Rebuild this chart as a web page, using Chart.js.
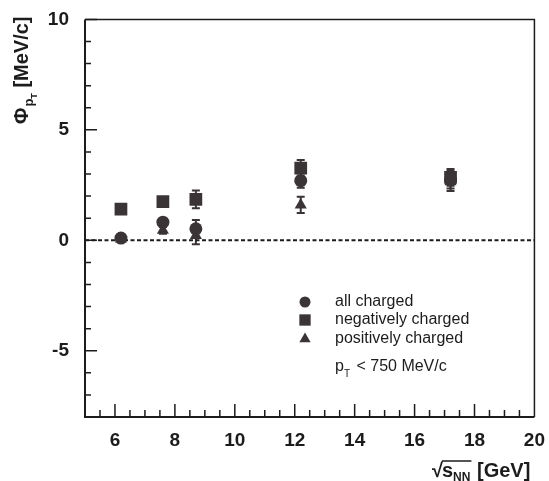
<!DOCTYPE html>
<html>
<head>
<meta charset="utf-8">
<script src="https://cdn.jsdelivr.net/npm/chart.js@4"></script>
<style>
  html,body{margin:0;padding:0;background:#fff;}
  canvas{display:block;}
</style>
</head>
<body>
<canvas id="phiChart" width="549" height="481"></canvas>
<script>
/* ===== data ===== */
const energies = [6.2, 7.6, 8.7, 12.2, 17.2];          // sqrt(s_NN) [GeV]
const allCharged    = [0.10, 0.82, 0.52, 2.70, 2.75];
const allChargedErr = [0.12, 0.15, 0.40, 0.32, 0.40];
const negCharged    = [1.41, 1.75, 1.85, 3.27, 2.85];
const negChargedErr = [0.12, 0.12, 0.40, 0.37, 0.38];
const posCharged    = [0.06, 0.45, 0.22, 1.60, 2.65];
const posChargedErr = [0.12, 0.15, 0.40, 0.37, 0.42];
const seriesNames = ['all charged', 'negatively charged', 'positively charged'];
const xTickLabels = [6, 8, 10, 12, 14, 16, 18, 20];
const yTickLabels = [-5, 0, 5, 10];
const zeroLineX = [5, 20];
const zeroLineY = [0, 0];

const INK = '#1c1c1c';
const MARK = '#3b3437';
const FONT = "'Liberation Sans', Arial, sans-serif";

function pts(ys){
    return energies.map((x,i)=>({x:x, y:ys[i]}));
}

/* error bars, axis box, ticks, legend, titles */
const decor = {
    id:'decor',
    beforeDatasetsDraw(chart){
        const ctx = chart.ctx, xs = chart.scales.x, ys = chart.scales.y;
        ctx.save();
        ctx.strokeStyle = MARK;
        ctx.lineWidth = 2;
        chart.data.datasets.forEach(ds=>{
            if(!ds.errors) return;
            ds.data.forEach((p,i)=>{
                const px = xs.getPixelForValue(p.x);
                const top = ys.getPixelForValue(p.y + ds.errors[i]);
                const bot = ys.getPixelForValue(p.y - ds.errors[i]);
                ctx.beginPath();
                ctx.moveTo(px, top); ctx.lineTo(px, bot);
                ctx.moveTo(px-4, top); ctx.lineTo(px+4, top);
                ctx.moveTo(px-4, bot); ctx.lineTo(px+4, bot);
                ctx.stroke();
            });
        });
        ctx.restore();
    },
    afterDraw(chart){
        const ctx = chart.ctx, a = chart.chartArea;
        const xs = chart.scales.x, ys = chart.scales.y;
        ctx.save();
        ctx.strokeStyle = INK;

        // frame
        ctx.lineWidth = 1.5;
        ctx.beginPath();
        ctx.moveTo(a.left, a.top); ctx.lineTo(a.right, a.top); ctx.lineTo(a.right, a.bottom);
        ctx.stroke();
        ctx.lineWidth = 2;
        ctx.beginPath();
        ctx.moveTo(a.left, a.top); ctx.lineTo(a.left, a.bottom); ctx.lineTo(a.right, a.bottom);
        ctx.stroke();

        // ticks pointing inwards
        ctx.lineWidth = 1.5;
        ctx.beginPath();
        for(let v=-8; v<=10; v++){
            const py = ys.getPixelForValue(v);
            const len = (v % 5 === 0) ? 12 : 6;
            ctx.moveTo(a.left, py); ctx.lineTo(a.left+len, py);
        }
        for(let k=11; k<40; k++){
            const v = k/2;
            const px = xs.getPixelForValue(v);
            const len = (k % 4 === 0) ? 13 : 7;
            ctx.moveTo(px, a.bottom); ctx.lineTo(px, a.bottom-len);
        }
        ctx.stroke();

        // legend
        const lx = 305, ly = [302, 320, 339];
        ctx.fillStyle = MARK;
        chart.data.datasets.slice(0,3).forEach((ds,i)=>{
            Chart.helpers.drawPoint(ctx, {pointStyle:ds.pointStyle, radius:ds.legendRadius, rotation:0, borderWidth:0}, lx, ly[i]);
        });
        ctx.fillStyle = INK;
        ctx.font = '16px ' + FONT;
        ctx.textBaseline = 'middle';
        ctx.textAlign = 'left';
        seriesNames.forEach((t,i)=>ctx.fillText(t, 335, ly[i]));

        // p_T < 750 MeV/c
        let tx = 335;
        ctx.fillText('p', tx, 367);
        tx += ctx.measureText('p').width;
        ctx.font = '10px ' + FONT;
        ctx.fillText('T', tx, 374);
        tx += ctx.measureText('T').width + 2;
        ctx.font = '16px ' + FONT;
        ctx.fillText(' < 750 MeV/c', tx, 367);

        // x title: sqrt(s_NN) [GeV]
        ctx.font = 'bold 20px ' + FONT;
        ctx.textBaseline = 'alphabetic';
        let x0 = 432, base = 477;
        ctx.fillText('\u221A', x0, base);
        x0 += ctx.measureText('\u221A').width - 1;
        const ovStart = x0;
        ctx.fillText('s', x0, base);
        x0 += ctx.measureText('s').width;
        ctx.font = 'bold 12px ' + FONT;
        ctx.fillText('NN', x0, base+4);
        x0 += ctx.measureText('NN').width + 1;
        ctx.lineWidth = 1.5;
        ctx.beginPath();
        ctx.moveTo(ovStart, base-16); ctx.lineTo(x0, base-16);
        ctx.stroke();
        ctx.font = 'bold 20px ' + FONT;
        ctx.fillText(' [GeV]', x0, base);

        // y title: Phi_{p_T} [MeV/c]
        ctx.translate(28, 124);
        ctx.rotate(-Math.PI/2);
        let y0 = 0;
        ctx.font = 'bold 20px ' + FONT;
        ctx.fillText('\u03A6', y0, 0);
        y0 += ctx.measureText('\u03A6').width + 1;
        ctx.font = 'bold 13px ' + FONT;
        ctx.fillText('p', y0, 5);
        y0 += ctx.measureText('p').width;
        ctx.font = 'bold 9px ' + FONT;
        ctx.fillText('T', y0, 9);
        y0 += ctx.measureText('T').width;
        ctx.font = 'bold 20px ' + FONT;
        ctx.fillText(' [MeV/c]', y0, 0);

        ctx.restore();
    }
};

new Chart(document.getElementById('phiChart'),{
    type:'scatter',
    data:{
        datasets:[{
            label:seriesNames[0],
            data:pts(allCharged),
            errors:allChargedErr,
            pointStyle:'circle',
            pointRadius:6.5,
            legendRadius:5.5,
            backgroundColor:MARK,
            borderColor:MARK,
            borderWidth:0
        },{
            label:seriesNames[1],
            data:pts(negCharged),
            errors:negChargedErr,
            pointStyle:'rect',
            pointRadius:9,
            legendRadius:8,
            backgroundColor:MARK,
            borderColor:MARK,
            borderWidth:0
        },{
            label:seriesNames[2],
            data:pts(posCharged),
            errors:posChargedErr,
            pointStyle:'triangle',
            pointRadius:7,
            legendRadius:6.5,
            backgroundColor:MARK,
            borderColor:MARK,
            borderWidth:0
        },{
            type:'line',
            data:zeroLineX.map((x,i)=>({x:x, y:zeroLineY[i]})),
            borderColor:INK,
            borderWidth:2,
            borderDash:[4,2.5],
            pointRadius:0,
            fill:false
        }]
    },
    options:{
        responsive:false,
        animation:false,
        layout:{padding:{left:0, right:11.5, top:12.5, bottom:0}},
        plugins:{legend:{display:false}, tooltip:{enabled:false}},
        scales:{
            x:{
                type:'linear', min:5, max:20,
                afterBuildTicks:s=>{ s.ticks = xTickLabels.map(v=>({value:v})); },
                afterFit:s=>{ s.height = 64; },
                grid:{display:false}, border:{display:false},
                ticks:{color:INK, padding:4, font:{family:FONT, size:19, weight:'bold'}}
            },
            y:{
                type:'linear', min:-8, max:10,
                afterBuildTicks:s=>{ s.ticks = yTickLabels.map(v=>({value:v})); },
                afterFit:s=>{ s.width = 85; },
                grid:{display:false}, border:{display:false},
                ticks:{color:INK, padding:8, font:{family:FONT, size:19, weight:'bold'}}
            }
        }
    },
    plugins:[decor]
});
</script>
</body>
</html>
